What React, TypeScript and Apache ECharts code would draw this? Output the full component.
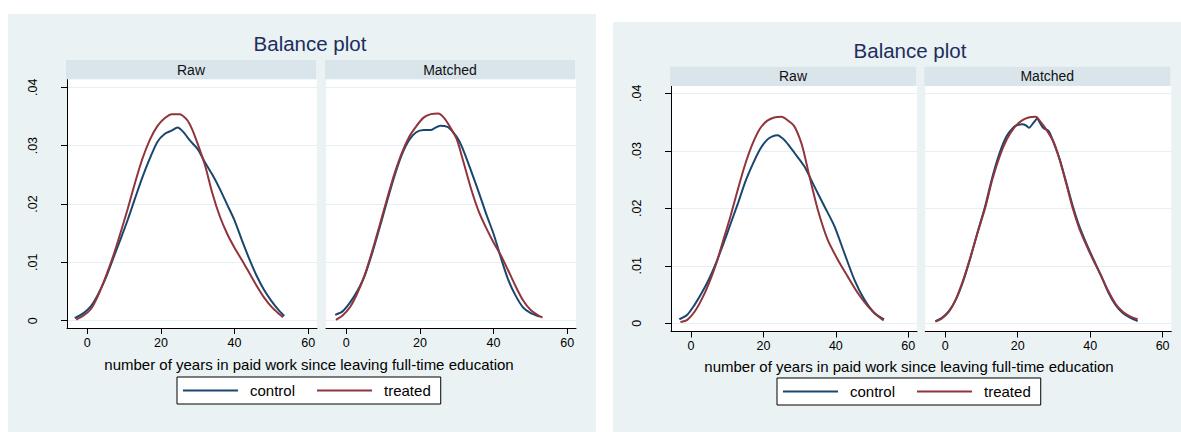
import React, { useEffect, useRef } from 'react';
import * as echarts from 'echarts';

const FONT = '"Liberation Sans", Arial, Helvetica, sans-serif';

// ---- data ----
const chartTitle = 'Balance plot';
const panelTitles = ['Raw', 'Matched'];
const seriesNames = ['control', 'treated'];
const xAxisTitle = 'number of years in paid work since leaving full-time education';
const xTicks = [0, 20, 40, 60];
const yTicks = [0, 0.01, 0.02, 0.03, 0.04];

// left chart, Raw panel
const leftRawControl: [number, number][] = [
  [-3.4, 0.00045], [-1, 0.0013], [1, 0.0025], [3, 0.0046], [5, 0.0073], [7, 0.0106], [9, 0.0139],
  [11, 0.0173], [13, 0.021], [15, 0.0246], [17, 0.0278], [19, 0.0306], [21, 0.032], [23, 0.0326],
  [24.5, 0.0331], [26, 0.0324], [28, 0.0308], [30, 0.0294], [32, 0.0271], [34, 0.025], [36, 0.0226],
  [38, 0.0199], [40, 0.0172], [42, 0.0138], [44, 0.0106], [46, 0.0077], [48, 0.0053], [50, 0.0034],
  [52, 0.0018], [53.5, 0.0008],
];
const leftRawTreated: [number, number][] = [
  [-3, 0.0002], [-1, 0.0009], [1, 0.002], [3, 0.0044], [5, 0.0075], [7, 0.011], [9, 0.015],
  [11, 0.0192], [13, 0.0237], [15, 0.0278], [17, 0.031], [19, 0.0333], [21, 0.0347], [23, 0.0354],
  [25, 0.0354], [27, 0.0345], [28.5, 0.0328], [30, 0.0303], [32, 0.0266], [34, 0.0218], [36, 0.0179],
  [38, 0.0149], [40, 0.0125], [42, 0.0104], [44, 0.0082], [46, 0.006], [48, 0.004], [50, 0.0024],
  [52, 0.0012], [53.2, 0.0006],
];
// left chart, Matched panel
const leftMatchedControl: [number, number][] = [
  [-3, 0.001], [-1, 0.0016], [1, 0.0031], [3, 0.0051], [5, 0.0077], [7, 0.0115], [9, 0.0158],
  [11, 0.0203], [13, 0.0246], [15, 0.0283], [17, 0.0309], [19, 0.0323], [21, 0.0327], [23, 0.0327],
  [24, 0.033], [25.5, 0.0334], [27.5, 0.0332], [29, 0.0323], [30.5, 0.031], [32, 0.0289], [34, 0.0255],
  [36, 0.022], [38, 0.0183], [40, 0.0149], [42, 0.0108], [44, 0.007], [46, 0.0043], [48, 0.0023],
  [50, 0.00135], [52.6, 0.0007],
];
const leftMatchedTreated: [number, number][] = [
  [-2.8, 0.00015], [-1, 0.0009], [1, 0.0023], [3, 0.0047], [5, 0.0078], [7, 0.0118], [9, 0.0162],
  [11, 0.0207], [13, 0.025], [15, 0.0286], [17, 0.0314], [19, 0.0333], [21, 0.0348], [23, 0.0354],
  [25, 0.0355], [26.5, 0.0348], [28, 0.0334], [30, 0.0311], [31.7, 0.0275], [34, 0.0224], [36, 0.0187],
  [38, 0.0159], [40, 0.0134], [42, 0.0112], [44, 0.0086], [46, 0.0059], [48, 0.0035], [50, 0.0019],
  [52, 0.00095], [53.3, 0.00055],
];
// right chart, Raw panel
const rightRawControl: [number, number][] = [
  [-3.2, 0.0007], [-1, 0.0015], [1, 0.0032], [3, 0.0053], [5, 0.0077], [7, 0.0106], [9, 0.0139],
  [11, 0.0174], [13, 0.0209], [15, 0.0246], [17, 0.0276], [19, 0.0302], [21, 0.0319], [22.5, 0.0325],
  [24, 0.0327], [25, 0.0323], [26.2, 0.0316], [28.5, 0.0297], [31.3, 0.0273], [34, 0.0239],
  [36.8, 0.0204], [39.6, 0.0169], [42.3, 0.0123], [45.1, 0.0076], [47.8, 0.0042], [50.6, 0.0018],
  [53.3, 0.0007],
];
const rightRawTreated: [number, number][] = [
  [-2.9, 0.0002], [-1, 0.0006], [1, 0.002], [3, 0.0042], [5, 0.007], [7, 0.0104], [9, 0.0146],
  [11, 0.0188], [13, 0.0234], [15, 0.0277], [17, 0.0312], [19, 0.0338], [21, 0.0352], [23, 0.0358],
  [25, 0.0359], [26.5, 0.0354], [28.5, 0.0343], [30, 0.0322], [31, 0.0302], [32.7, 0.0256], [35, 0.0198],
  [37.7, 0.0146], [40.5, 0.0111], [43.2, 0.0082], [46, 0.0053], [48.8, 0.003], [51.5, 0.0013],
  [53.2, 0.0005],
];
// right chart, Matched panel
const rightMatchedControl: [number, number][] = [
  [-2.7, 0.00035], [-1, 0.0009], [1, 0.0021], [3, 0.0042], [5, 0.0074], [7, 0.0115], [9, 0.016],
  [11, 0.0203], [13, 0.0254], [15, 0.0296], [17, 0.0326], [19, 0.0342], [20, 0.0345], [21.3, 0.0346],
  [22.3, 0.0344], [23.1, 0.034], [24.5, 0.035], [25.4, 0.0356], [26.2, 0.0348], [27, 0.034],
  [28.6, 0.0334], [30, 0.0313], [31.6, 0.0285], [33.4, 0.0245], [35.2, 0.0204], [37, 0.0169],
  [39, 0.0138], [41, 0.011], [43, 0.0083], [45, 0.0054], [47, 0.0032], [49, 0.0018], [51, 0.001],
  [53.1, 0.0004],
];
const rightMatchedTreated: [number, number][] = [
  [-2.7, 0.0003], [-1, 0.0008], [1, 0.002], [3, 0.0043], [5, 0.0076], [7, 0.0116], [9, 0.0159],
  [11, 0.02], [13, 0.025], [15, 0.029], [17, 0.032], [19, 0.034], [21, 0.0352], [23, 0.0358],
  [25, 0.0359], [26, 0.0353], [28, 0.0336], [30, 0.0314], [31.6, 0.0284], [33.4, 0.0243],
  [35.2, 0.02], [37, 0.0165], [39, 0.0135], [41, 0.0108], [43, 0.0083], [45, 0.0056], [47, 0.0034],
  [49, 0.002], [51, 0.0012], [53.1, 0.0007],
];

// ---- styling / layout ----
const COLORS = ['#1a476f', '#90353b'];
const BG = '#eaf2f3';
const STRIP = '#d9e5eb';
const GRIDLINE = '#e6eff1';
const TITLE_COLOR = '#1c2d5e';

const layouts = [
  {
    bg: [8, 14, 588, 418], titleX: 310, titleY: 43, stripTop: 60, gridTop: 79.3, gridHeight: 248.7,
    panelLefts: [67, 326], panelWidth: 250, yMin: -0.00125, yMax: 0.04137,
    xTitleX: 309, xTitleY: 364, legendLeft: 177, legendTop: 377,
    data: [[leftRawControl, leftRawTreated], [leftMatchedControl, leftMatchedTreated]],
  },
  {
    bg: [613, 22, 568, 410], titleX: 910, titleY: 50, stripTop: 66.7, gridTop: 86, gridHeight: 245.5,
    panelLefts: [671, 925.3], panelWidth: 246, yMin: -0.00143, yMax: 0.04127,
    xTitleX: 909, xTitleY: 366, legendLeft: 777, legendTop: 378,
    data: [[rightRawControl, rightRawTreated], [rightMatchedControl, rightMatchedTreated]],
  },
];

const X_MIN = -5.5;
const X_MAX = 62.4;

function yFmt(v: number) {
  if (Math.abs(v) < 1e-12) return '0';
  return v.toFixed(2).replace(/^0/, '');
}

function buildOption() {
  const grid: any[] = [];
  const xAxis: any[] = [];
  const yAxis: any[] = [];
  const series: any[] = [];
  const graphic: any[] = [];
  const legend: any[] = [];

  layouts.forEach((L) => {
    graphic.push({
      type: 'rect', z: -100, silent: true,
      shape: { x: L.bg[0], y: L.bg[1], width: L.bg[2], height: L.bg[3] },
      style: { fill: BG },
    });
    graphic.push({
      type: 'text', x: L.titleX, y: L.titleY, z: 10, silent: true,
      style: { text: chartTitle, fill: TITLE_COLOR, fontSize: 20.5, fontFamily: FONT, align: 'center', verticalAlign: 'middle' },
    });
    graphic.push({
      type: 'text', x: L.xTitleX, y: L.xTitleY, z: 10, silent: true,
      style: { text: xAxisTitle, fill: '#000', fontSize: 15, fontFamily: FONT, align: 'center', verticalAlign: 'middle' },
    });

    L.panelLefts.forEach((left, p) => {
      const idx = grid.length;
      graphic.push({
        type: 'rect', z: 5, silent: true,
        shape: { x: left - 1, y: L.stripTop, width: L.panelWidth, height: L.gridTop - L.stripTop },
        style: { fill: STRIP },
      });
      graphic.push({
        type: 'text', x: left - 1 + L.panelWidth / 2, y: (L.stripTop + L.gridTop) / 2, z: 10, silent: true,
        style: { text: panelTitles[p], fill: '#111', fontSize: 14, fontFamily: FONT, align: 'center', verticalAlign: 'middle' },
      });
      grid.push({
        left, top: L.gridTop, width: L.panelWidth, height: L.gridHeight,
        show: true, backgroundColor: '#ffffff', borderWidth: 0, containLabel: false,
      });
      xAxis.push({
        gridIndex: idx, type: 'value', min: X_MIN, max: X_MAX,
        axisLine: { show: true, onZero: false, lineStyle: { color: '#000', width: 1 } },
        axisTick: { show: true, length: 6, customValues: xTicks, lineStyle: { color: '#000', width: 1 } },
        axisLabel: { show: true, customValues: xTicks, margin: 8, fontSize: 12.5, color: '#000', fontFamily: FONT },
        splitLine: { show: false },
      });
      const isFirst = p === 0;
      yAxis.push({
        gridIndex: idx, type: 'value', min: L.yMin, max: L.yMax,
        axisLine: { show: isFirst, onZero: false, lineStyle: { color: '#000', width: 1 } },
        axisTick: { show: isFirst, length: 6, customValues: yTicks, lineStyle: { color: '#000', width: 1 } },
        axisLabel: {
          show: isFirst, customValues: yTicks, rotate: 90, margin: 28, fontSize: 12.5, color: '#000',
          fontFamily: FONT, formatter: yFmt,
        },
        splitLine: { show: true, lineStyle: { color: GRIDLINE, width: 1 } },
      });
      L.data[p].forEach((d, s) => {
        series.push({
          type: 'line', name: seriesNames[s], xAxisIndex: idx, yAxisIndex: idx, data: d,
          showSymbol: false, symbol: 'none', smooth: 0.25, silent: true,
          lineStyle: { width: 2, color: COLORS[s] }, itemStyle: { color: COLORS[s] },
        });
      });
    });

    legend.push({
      left: L.legendLeft, top: L.legendTop, orient: 'horizontal', data: seriesNames,
      icon: 'rect', itemWidth: 55, itemHeight: 2, itemGap: 22, padding: [5, 10, 5, 6],
      backgroundColor: '#fff', borderColor: '#000', borderWidth: 1, borderRadius: 0,
      selectedMode: false,
      textStyle: { fontSize: 15, fontFamily: FONT, color: '#000', padding: [0, 0, 0, 7], lineHeight: 17 },
    });
  });

  return { animation: false, grid, xAxis, yAxis, series, graphic, legend, textStyle: { fontFamily: FONT } };
}

export default function App() {
  const ref = useRef<HTMLDivElement>(null);
  useEffect(() => {
    if (!ref.current) return;
    const chart = echarts.init(ref.current, null, { renderer: 'svg' });
    chart.setOption(buildOption() as any);
    return () => chart.dispose();
  }, []);
  return (
    <div
      ref={ref}
      style={{ position: 'absolute', left: 0, top: 0, width: 1181, height: 432, background: '#fff' }}
    />
  );
}
